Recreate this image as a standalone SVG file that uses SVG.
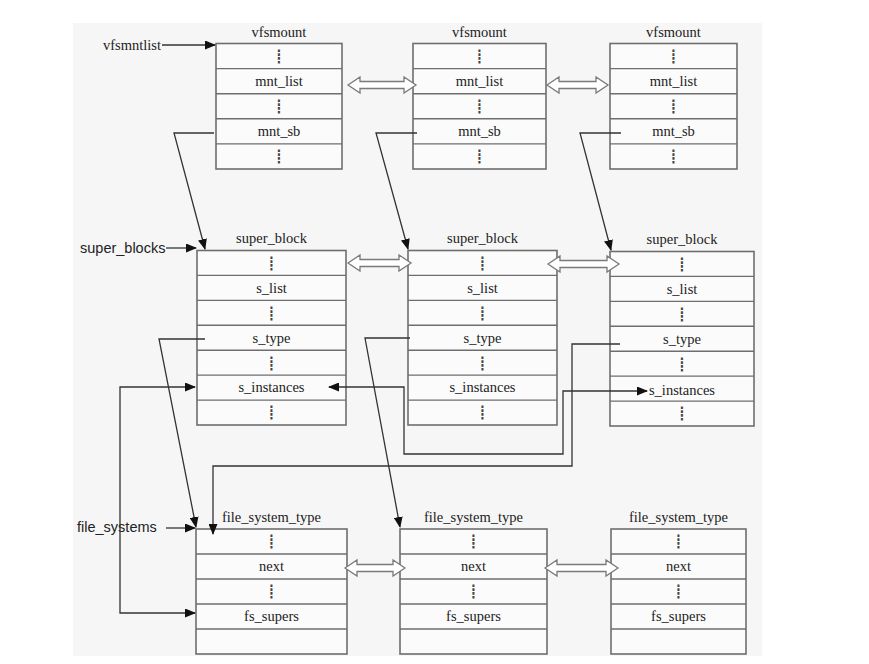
<svg xmlns="http://www.w3.org/2000/svg" width="869" height="664" viewBox="0 0 869 664">
<style>
.bg{fill:#f6f6f6}
.box{fill:#fbfbfb;stroke:#6e6e6e;stroke-width:1.6}
.sep{stroke:#6e6e6e;stroke-width:1.4}
.t{font-family:"Liberation Serif","Times New Roman",serif;font-size:14.5px;fill:#222;text-anchor:middle}
.tl{font-family:"Liberation Serif","Times New Roman",serif;font-size:14.5px;fill:#222}
.s{font-family:"Liberation Sans",Arial,sans-serif;font-size:14.5px;fill:#222}
.d{font-family:"DejaVu Sans",sans-serif;font-size:13px;fill:#444;text-anchor:middle}
.c{fill:none;stroke:#333;stroke-width:1.3}
.h{fill:#ffffff;stroke:#7a7a7a;stroke-width:1.3}
</style>
<defs>
<marker id="ah" markerWidth="11" markerHeight="9" refX="10" refY="4.5" orient="auto-start-reverse" markerUnits="userSpaceOnUse">
<path d="M0,0 L11,4.5 L0,9 Z" fill="#111"/>
</marker>
</defs>
<rect class="bg" x="73" y="23" width="689" height="633"/>

<g id="vfsmount1">
<text class="t" x="279" y="37">vfsmount</text>
<rect class="box" x="216" y="43.5" width="126" height="125.5"/>
<line class="sep" x1="216" y1="68.6" x2="342" y2="68.6"/>
<line class="sep" x1="216" y1="93.7" x2="342" y2="93.7"/>
<line class="sep" x1="216" y1="118.8" x2="342" y2="118.8"/>
<line class="sep" x1="216" y1="143.9" x2="342" y2="143.9"/>
<text class="d" x="279" y="61">┋</text>
<text class="t" x="279" y="86">mnt_list</text>
<text class="d" x="279" y="111">┋</text>
<text class="t" x="279" y="136">mnt_sb</text>
<text class="d" x="279" y="161">┋</text>
</g>

<g id="vfsmount2">
<text class="t" x="479.5" y="37">vfsmount</text>
<rect class="box" x="413" y="43.5" width="133" height="125.5"/>
<line class="sep" x1="413" y1="68.6" x2="546" y2="68.6"/>
<line class="sep" x1="413" y1="93.7" x2="546" y2="93.7"/>
<line class="sep" x1="413" y1="118.8" x2="546" y2="118.8"/>
<line class="sep" x1="413" y1="143.9" x2="546" y2="143.9"/>
<text class="d" x="479.5" y="61">┋</text>
<text class="t" x="479.5" y="86">mnt_list</text>
<text class="d" x="479.5" y="111">┋</text>
<text class="t" x="479.5" y="136">mnt_sb</text>
<text class="d" x="479.5" y="161">┋</text>
</g>

<g id="vfsmount3">
<text class="t" x="673.5" y="37">vfsmount</text>
<rect class="box" x="610" y="43.5" width="127" height="125.5"/>
<line class="sep" x1="610" y1="68.6" x2="737" y2="68.6"/>
<line class="sep" x1="610" y1="93.7" x2="737" y2="93.7"/>
<line class="sep" x1="610" y1="118.8" x2="737" y2="118.8"/>
<line class="sep" x1="610" y1="143.9" x2="737" y2="143.9"/>
<text class="d" x="673.5" y="61">┋</text>
<text class="t" x="673.5" y="86">mnt_list</text>
<text class="d" x="673.5" y="111">┋</text>
<text class="t" x="673.5" y="136">mnt_sb</text>
<text class="d" x="673.5" y="161">┋</text>
</g>

<g id="super_block1">
<text class="t" x="271.5" y="243">super_block</text>
<rect class="box" x="197" y="250.5" width="149" height="174.5"/>
<line class="sep" x1="197" y1="275.4" x2="346" y2="275.4"/>
<line class="sep" x1="197" y1="300.4" x2="346" y2="300.4"/>
<line class="sep" x1="197" y1="325.3" x2="346" y2="325.3"/>
<line class="sep" x1="197" y1="350.2" x2="346" y2="350.2"/>
<line class="sep" x1="197" y1="375.1" x2="346" y2="375.1"/>
<line class="sep" x1="197" y1="400.1" x2="346" y2="400.1"/>
<text class="d" x="271.5" y="268">┋</text>
<text class="t" x="271.5" y="293">s_list</text>
<text class="d" x="271.5" y="318">┋</text>
<text class="t" x="271.5" y="343">s_type</text>
<text class="d" x="271.5" y="368">┋</text>
<text class="t" x="271.5" y="392">s_instances</text>
<text class="d" x="271.5" y="417">┋</text>
</g>

<g id="super_block2">
<text class="t" x="482.5" y="243">super_block</text>
<rect class="box" x="408" y="250.5" width="149" height="174.5"/>
<line class="sep" x1="408" y1="275.4" x2="557" y2="275.4"/>
<line class="sep" x1="408" y1="300.4" x2="557" y2="300.4"/>
<line class="sep" x1="408" y1="325.3" x2="557" y2="325.3"/>
<line class="sep" x1="408" y1="350.2" x2="557" y2="350.2"/>
<line class="sep" x1="408" y1="375.1" x2="557" y2="375.1"/>
<line class="sep" x1="408" y1="400.1" x2="557" y2="400.1"/>
<text class="d" x="482.5" y="268">┋</text>
<text class="t" x="482.5" y="293">s_list</text>
<text class="d" x="482.5" y="318">┋</text>
<text class="t" x="482.5" y="343">s_type</text>
<text class="d" x="482.5" y="368">┋</text>
<text class="t" x="482.5" y="392">s_instances</text>
<text class="d" x="482.5" y="417">┋</text>
</g>

<g id="super_block3">
<text class="t" x="682" y="244">super_block</text>
<rect class="box" x="610" y="251.5" width="144" height="174.5"/>
<line class="sep" x1="610" y1="276.4" x2="754" y2="276.4"/>
<line class="sep" x1="610" y1="301.4" x2="754" y2="301.4"/>
<line class="sep" x1="610" y1="326.3" x2="754" y2="326.3"/>
<line class="sep" x1="610" y1="351.2" x2="754" y2="351.2"/>
<line class="sep" x1="610" y1="376.1" x2="754" y2="376.1"/>
<line class="sep" x1="610" y1="401.1" x2="754" y2="401.1"/>
<text class="d" x="682" y="269">┋</text>
<text class="t" x="682" y="294">s_list</text>
<text class="d" x="682" y="319">┋</text>
<text class="t" x="682" y="344">s_type</text>
<text class="d" x="682" y="369">┋</text>
<text class="t" x="682" y="395">s_instances</text>
<text class="d" x="682" y="418">┋</text>
</g>

<g id="file_system_type1">
<text class="t" x="271.5" y="522">file_system_type</text>
<rect class="box" x="196" y="529" width="151" height="125"/>
<line class="sep" x1="196" y1="554" x2="347" y2="554"/>
<line class="sep" x1="196" y1="579" x2="347" y2="579"/>
<line class="sep" x1="196" y1="604" x2="347" y2="604"/>
<line class="sep" x1="196" y1="629" x2="347" y2="629"/>
<text class="d" x="271.5" y="546">┋</text>
<text class="t" x="271.5" y="571">next</text>
<text class="d" x="271.5" y="596">┋</text>
<text class="t" x="271.5" y="621">fs_supers</text>
</g>

<g id="file_system_type2">
<text class="t" x="473.5" y="522">file_system_type</text>
<rect class="box" x="400" y="529" width="147" height="125"/>
<line class="sep" x1="400" y1="554" x2="547" y2="554"/>
<line class="sep" x1="400" y1="579" x2="547" y2="579"/>
<line class="sep" x1="400" y1="604" x2="547" y2="604"/>
<line class="sep" x1="400" y1="629" x2="547" y2="629"/>
<text class="d" x="473.5" y="546">┋</text>
<text class="t" x="473.5" y="571">next</text>
<text class="d" x="473.5" y="596">┋</text>
<text class="t" x="473.5" y="621">fs_supers</text>
</g>

<g id="file_system_type3">
<text class="t" x="678.5" y="522">file_system_type</text>
<rect class="box" x="611" y="529" width="135" height="125"/>
<line class="sep" x1="611" y1="554" x2="746" y2="554"/>
<line class="sep" x1="611" y1="579" x2="746" y2="579"/>
<line class="sep" x1="611" y1="604" x2="746" y2="604"/>
<line class="sep" x1="611" y1="629" x2="746" y2="629"/>
<text class="d" x="678.5" y="546">┋</text>
<text class="t" x="678.5" y="571">next</text>
<text class="d" x="678.5" y="596">┋</text>
<text class="t" x="678.5" y="621">fs_supers</text>
</g>

<g id="labels">
<text class="tl" x="103" y="50">vfsmntlist</text>
<text class="s" x="80" y="253">super_blocks</text>
<text class="s" x="77" y="532">file_systems</text>
</g>

<g id="connectors">
<line class="c" x1="162" y1="45" x2="215" y2="45" marker-end="url(#ah)"/>
<polyline class="c" points="214,133 174,133 205,249" marker-end="url(#ah)"/>
<polyline class="c" points="417,133 376,133 408,249" marker-end="url(#ah)"/>
<polyline class="c" points="621,133 580,133 611,250" marker-end="url(#ah)"/>
<line class="c" x1="166" y1="248" x2="196" y2="248" marker-end="url(#ah)"/>
<polyline class="c" points="205,339 159,339 196,527" marker-end="url(#ah)"/>
<line class="c" x1="166" y1="528" x2="195" y2="528" marker-end="url(#ah)"/>
<polyline class="c" points="195,387 120,387 120,613 195,613" marker-start="url(#ah)" marker-end="url(#ah)"/>
<polyline class="c" points="410,338 365,338 400,527" marker-end="url(#ah)"/>
<polyline class="c" points="620,344 572,344 572,466 213,466 213,534" marker-end="url(#ah)"/>
<polyline class="c" points="329,387 404,387 404,454 563,454 563,391 647,391" marker-start="url(#ah)" marker-end="url(#ah)"/>
<polygon class="h" points="348,85 360,77 360,81.5 404,81.5 404,77 416,85 404,93 404,88.5 360,88.5 360,93"/>
<polygon class="h" points="547,85 559,77 559,81.5 596,81.5 596,77 608,85 596,93 596,88.5 559,88.5 559,93"/>
<polygon class="h" points="348,263 360,255 360,259.5 399,259.5 399,255 411,263 399,271 399,266.5 360,266.5 360,271"/>
<polygon class="h" points="548,264 560,256 560,260.5 607,260.5 607,256 619,264 607,272 607,267.5 560,267.5 560,272"/>
<polygon class="h" points="345,568 357,560 357,564.5 393,564.5 393,560 405,568 393,576 393,571.5 357,571.5 357,576"/>
<polygon class="h" points="545,568 557,560 557,564.5 606,564.5 606,560 618,568 606,576 606,571.5 557,571.5 557,576"/>
</g>
</svg>
